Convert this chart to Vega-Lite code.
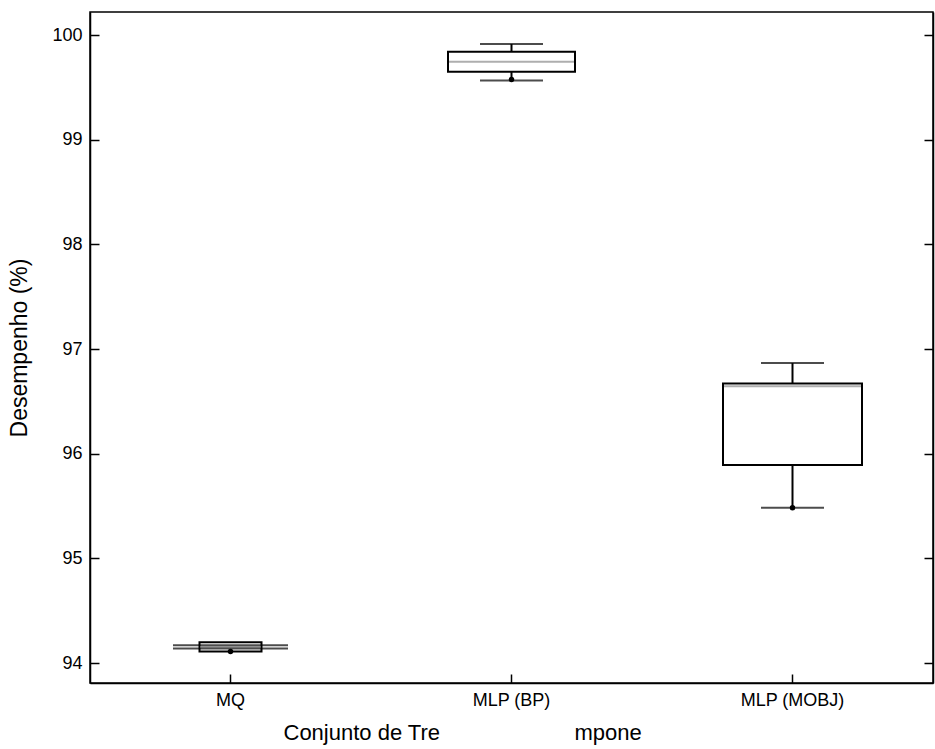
{
  "$schema": "https://vega.github.io/schema/vega-lite/v6.json",
  "width": 843,
  "height": 671,
  "autosize": "none",
  "padding": {"left": 90, "top": 12, "right": 2, "bottom": 66},
  "background": "white",
  "config": {
    "font": "Liberation Sans",
    "view": {"stroke": "black", "strokeWidth": 1.5},
    "axis": {"domainColor": "black", "tickColor": "black", "labelColor": "black", "titleColor": "black", "grid": false, "domainWidth": 1.5, "tickWidth": 1.5, "labelFont": "Liberation Sans", "titleFont": "Liberation Sans", "titleFontWeight": "normal"}
  },
  "data": {
    "values": [
      {"grupo": "MQ", "lower": 94.14, "q1": 94.11, "median": 94.155, "q3": 94.2, "upper": 94.17, "ponto": 94.11},
      {"grupo": "MLP (BP)", "lower": 99.565, "q1": 99.65, "median": 99.745, "q3": 99.84, "upper": 99.914, "ponto": 99.575},
      {"grupo": "MLP (MOBJ)", "lower": 95.484, "q1": 95.892, "median": 96.645, "q3": 96.67, "upper": 96.866, "ponto": 95.484}
    ]
  },
  "encoding": {
    "x": {
      "field": "grupo", "type": "nominal", "sort": null,
      "scale": {"domain": ["MQ", "MLP (BP)", "MLP (MOBJ)"], "paddingInner": 0, "paddingOuter": 0},
      "axis": {
        "labelAngle": 0, "labelFontSize": 18, "tickSize": -9, "labelPadding": 17,
        "title": "Conjunto de Tre\u00a0\u00a0\u00a0\u00a0\u00a0\u00a0\u00a0\u00a0\u00a0\u00a0\u00a0\u00a0\u00a0\u00a0\u00a0\u00a0\u00a0\u00a0\u00a0\u00a0\u00a0\u00a0mpone",
        "titleFontSize": 22, "titleAnchor": "start", "titleX": 193, "titleAlign": "left", "titlePadding": 13
      }
    }
  },
  "resolve": {"axis": {"y": "independent"}},
  "layer": [
    {
      "mark": {"type": "rule", "color": "black", "strokeWidth": 2},
      "encoding": {
        "y": {"field": "lower", "type": "quantitative",
          "scale": {"domain": [93.81, 100.22], "nice": false, "zero": false},
          "axis": {"title": "Desempenho (%)", "titleFontSize": 23, "titlePadding": 20, "values": [94, 95, 96, 97, 98, 99, 100], "labelFontSize": 18, "tickSize": -9, "labelPadding": 17}},
        "y2": {"field": "q1"}
      }
    },
    {
      "mark": {"type": "rule", "color": "black", "strokeWidth": 2},
      "encoding": {
        "y": {"field": "q3", "type": "quantitative", "axis": {"orient": "right", "title": null, "labels": false, "values": [94, 95, 96, 97, 98, 99, 100], "tickSize": -9}},
        "y2": {"field": "upper"}
      }
    },
    {
      "mark": {"type": "bar", "fill": "white", "stroke": "black", "strokeWidth": 2},
      "encoding": {
        "y": {"field": "q1", "type": "quantitative", "axis": null},
        "y2": {"field": "q3"},
        "size": {"condition": [{"test": "datum.grupo === 'MQ'", "value": 62}, {"test": "datum.grupo === 'MLP (BP)'", "value": 127}], "value": 139}
      }
    },
    {
      "mark": {"type": "tick", "color": "#8c8c8c", "thickness": 2},
      "encoding": {
        "y": {"field": "median", "type": "quantitative", "axis": null},
        "size": {"condition": [{"test": "datum.grupo === 'MQ'", "value": 60}, {"test": "datum.grupo === 'MLP (BP)'", "value": 125}], "value": 137}
      }
    },
    {
      "mark": {"type": "tick", "color": "black", "thickness": 2},
      "encoding": {
        "y": {"field": "lower", "type": "quantitative", "axis": null},
        "size": {"condition": [{"test": "datum.grupo === 'MQ'", "value": 115}], "value": 63}
      }
    },
    {
      "mark": {"type": "tick", "color": "black", "thickness": 2},
      "encoding": {
        "y": {"field": "upper", "type": "quantitative", "axis": null},
        "size": {"condition": [{"test": "datum.grupo === 'MQ'", "value": 115}], "value": 63}
      }
    },
    {
      "mark": {"type": "point", "filled": true, "color": "black", "size": 30, "opacity": 1},
      "encoding": {
        "y": {"field": "ponto", "type": "quantitative", "axis": null}
      }
    }
  ]
}
